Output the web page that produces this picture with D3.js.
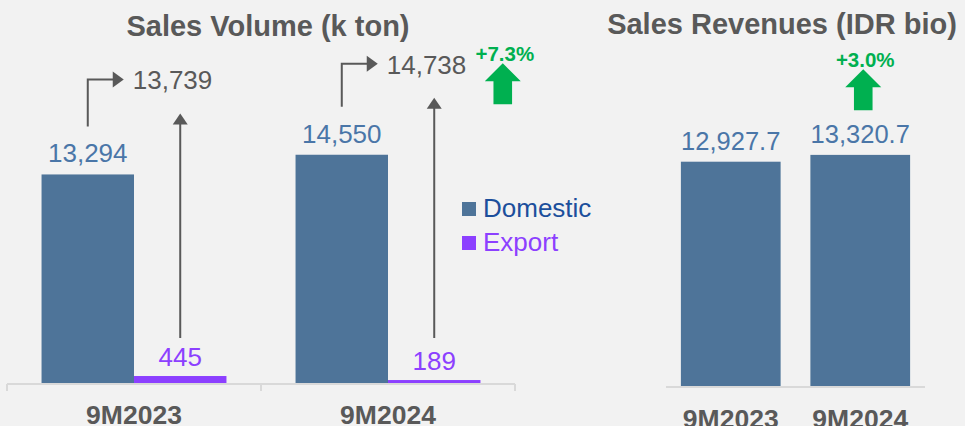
<!DOCTYPE html>
<html>
<head>
<meta charset="utf-8">
<script src="https://cdn.jsdelivr.net/npm/d3@7"></script>
<style>
  html, body { margin: 0; padding: 0; background: #f2f2f2; }
  svg { display: block; font-family: "Liberation Sans", Arial, sans-serif; }
</style>
</head>
<body>
<div id="corpo"></div>
<script>
// dados
var categories = ["9M2023", "9M2024"];
var seriesNames = ["Domestic", "Export"];
var domestic = [13294, 14550];
var exportVol = [445, 189];
var totalVol = [13739, 14738];
var revenue = [12927.7, 13320.7];
var volGrowth = "+7.3%";
var revGrowth = "+3.0%";

var width = 965, height = 426;
var colDomestic = "#4e7499", colExport = "#8c40ff", colGrey = "#595959",
    colLabel = "#4a76a8", colGreen = "#00b050", colAxis = "#d9d9d9";

var fmtInt = d3.format(","), fmtDec = d3.format(",.1f");

var svg = d3.select("#corpo").append("svg")
  .attr("width", width)
  .attr("height", height);

svg.append("rect").attr("width", width).attr("height", height).attr("fill", "#f2f2f2");

/*=== sales volume ===*/
var xL = d3.scaleBand().domain(categories).range([7, 515]).paddingInner(0.272).paddingOuter(0.136);
var xS = d3.scaleBand().domain(seriesNames).range([0, xL.bandwidth()]);
var yL = d3.scaleLinear().domain([0, 16000]).range([383, 132]);

var volRows = categories.map(function(c, i){
  return { cat: c, Domestic: domestic[i], Export: exportVol[i], total: totalVol[i] };
});

svg.append("text")
  .attr("x", 268).attr("y", 36)
  .attr("text-anchor", "middle")
  .attr("font-size", 29).attr("font-weight", "bold")
  .attr("fill", colGrey)
  .text("Sales Volume (k ton)");

var grp = svg.selectAll("g.vol").data(volRows).enter().append("g")
  .attr("class", "vol")
  .attr("transform", function(d){ return "translate(" + xL(d.cat) + ",0)"; });

grp.selectAll("rect").data(function(d){ return seriesNames.map(function(s){ return { s: s, v: d[s] }; }); })
  .enter().append("rect")
  .attr("x", function(d){ return xS(d.s); })
  .attr("y", function(d){ return yL(d.v); })
  .attr("width", xS.bandwidth())
  .attr("height", function(d){ return yL(0) - yL(d.v); })
  .attr("fill", function(d){ return d.s === "Domestic" ? colDomestic : colExport; });

grp.selectAll("text.val").data(function(d){ return seriesNames.map(function(s){ return { s: s, v: d[s] }; }); })
  .enter().append("text")
  .attr("class", "val")
  .attr("x", function(d){ return xS(d.s) + xS.bandwidth() / 2; })
  .attr("y", function(d){ return yL(d.v) - (d.s === "Domestic" ? 12 : 10); })
  .attr("text-anchor", "middle")
  .attr("font-size", 26)
  .attr("fill", function(d){ return d.s === "Domestic" ? colLabel : colExport; })
  .text(function(d){ return fmtInt(d.v); });

// setas de total
grp.each(function(d){
  var g = d3.select(this);
  var cx = xS("Domestic") + xS.bandwidth() / 2;
  var ex = xS("Export") + xS.bandwidth() / 2;
  var yTop = yL(d.total) - 88;
  var tipX = cx + 36;

  g.append("path")
    .attr("d", "M" + cx + "," + (yL(d.Domestic) - 48) + "V" + yTop + "H" + (tipX - 10))
    .attr("fill", "none").attr("stroke", colGrey).attr("stroke-width", 2);
  g.append("path")
    .attr("d", "M" + (tipX - 11) + "," + (yTop - 8) + "L" + tipX + "," + yTop + "L" + (tipX - 11) + "," + (yTop + 8) + "Z")
    .attr("fill", colGrey);

  g.append("text")
    .attr("x", tipX + 9).attr("y", yL(d.total) - 78)
    .attr("font-size", 26).attr("fill", colGrey)
    .text(fmtInt(d.total));

  var vTip = yL(d.total) - 54;
  g.append("line")
    .attr("x1", ex).attr("x2", ex)
    .attr("y1", yL(0) - 45).attr("y2", vTip + 10)
    .attr("stroke", colGrey).attr("stroke-width", 2);
  g.append("path")
    .attr("d", "M" + (ex - 7.5) + "," + (vTip + 11) + "L" + ex + "," + vTip + "L" + (ex + 7.5) + "," + (vTip + 11) + "Z")
    .attr("fill", colGrey);
});

// eixo
svg.append("line")
  .attr("x1", xL.range()[0]).attr("x2", xL.range()[1])
  .attr("y1", yL(0) + 1).attr("y2", yL(0) + 1)
  .attr("stroke", colAxis).attr("stroke-width", 2);
var bounds = [xL.range()[0]].concat(categories.map(function(c){ return xL(c) + xL.bandwidth() + xL.step() * xL.paddingInner() / 2; }));
bounds[bounds.length - 1] = xL.range()[1];
svg.selectAll("line.tick").data(bounds).enter().append("line")
  .attr("class", "tick")
  .attr("x1", function(d){ return d; }).attr("x2", function(d){ return d; })
  .attr("y1", yL(0) + 1).attr("y2", yL(0) + 8)
  .attr("stroke", colAxis).attr("stroke-width", 2);

svg.selectAll("text.catL").data(categories).enter().append("text")
  .attr("class", "catL")
  .attr("x", function(d){ return xL(d) + xL.bandwidth() / 2; })
  .attr("y", 424)
  .attr("text-anchor", "middle")
  .attr("font-size", 26.5).attr("font-weight", "bold")
  .attr("fill", colGrey)
  .text(function(d){ return d; });

// legenda
var leg = svg.selectAll("g.leg").data(seriesNames).enter().append("g")
  .attr("class", "leg")
  .attr("transform", function(d, i){ return "translate(462," + (202 + i * 34) + ")"; });
leg.append("rect").attr("width", 14).attr("height", 14)
  .attr("fill", function(d){ return d === "Domestic" ? colDomestic : colExport; });
leg.append("text").attr("x", 21).attr("y", 15)
  .attr("font-size", 26)
  .attr("fill", function(d){ return d === "Domestic" ? "#1c4f9c" : colExport; })
  .text(function(d){ return d; });

// seta verde
function upArrow(cx, tipY){
  return "M" + cx + "," + tipY +
    "L" + (cx + 18) + "," + (tipY + 18) +
    "H" + (cx + 9.3) + "V" + (tipY + 41) +
    "H" + (cx - 9.3) + "V" + (tipY + 18) +
    "H" + (cx - 18) + "Z";
}
var gx = xL(categories[1]) + xS.bandwidth() / 2 + 161;
var gy = yL(totalVol[1]) - 88.6;
svg.append("path").attr("d", upArrow(gx, gy)).attr("fill", colGreen);
svg.append("text").attr("x", gx + 2).attr("y", gy - 1.7)
  .attr("text-anchor", "middle").attr("font-size", 20.5).attr("font-weight", "bold")
  .attr("fill", colGreen).text(volGrowth);

/*=== sales revenues ===*/
var xR = d3.scaleBand().domain(categories).range([666, 925]).paddingInner(0.23).paddingOuter(0.115);
var yR = d3.scaleLinear().domain([0, 14000]).range([386, 143.1]);

svg.append("text")
  .attr("x", 782).attr("y", 34)
  .attr("text-anchor", "middle")
  .attr("font-size", 29).attr("font-weight", "bold")
  .attr("fill", colGrey)
  .text("Sales Revenues (IDR bio)");

svg.selectAll("rect.rev").data(revenue).enter().append("rect")
  .attr("class", "rev")
  .attr("x", function(d, i){ return xR(categories[i]); })
  .attr("y", function(d){ return yR(d); })
  .attr("width", xR.bandwidth())
  .attr("height", function(d){ return yR(0) - yR(d); })
  .attr("fill", colDomestic);

svg.selectAll("text.rev").data(revenue).enter().append("text")
  .attr("class", "rev")
  .attr("x", function(d, i){ return xR(categories[i]) + xR.bandwidth() / 2; })
  .attr("y", function(d){ return yR(d) - 11.7; })
  .attr("text-anchor", "middle")
  .attr("font-size", 25.5)
  .attr("fill", colLabel)
  .text(function(d){ return fmtDec(d); });

svg.append("line")
  .attr("x1", xR.range()[0]).attr("x2", xR.range()[1])
  .attr("y1", yR(0) + 1).attr("y2", yR(0) + 1)
  .attr("stroke", colAxis).attr("stroke-width", 2);

svg.selectAll("text.catR").data(categories).enter().append("text")
  .attr("class", "catR")
  .attr("x", function(d){ return xR(d) + xR.bandwidth() / 2; })
  .attr("y", 428)
  .attr("text-anchor", "middle")
  .attr("font-size", 26.5).attr("font-weight", "bold")
  .attr("fill", colGrey)
  .text(function(d){ return d; });

var rx = xR(categories[1]) + xR.bandwidth() / 2 + 3;
var ry = yR(revenue[1]) - 85.7;
svg.append("path").attr("d", upArrow(rx, ry)).attr("fill", colGreen);
svg.append("text").attr("x", rx + 2).attr("y", ry - 2.6)
  .attr("text-anchor", "middle").attr("font-size", 20.5).attr("font-weight", "bold")
  .attr("fill", colGreen).text(revGrowth);
</script>
</body>
</html>
